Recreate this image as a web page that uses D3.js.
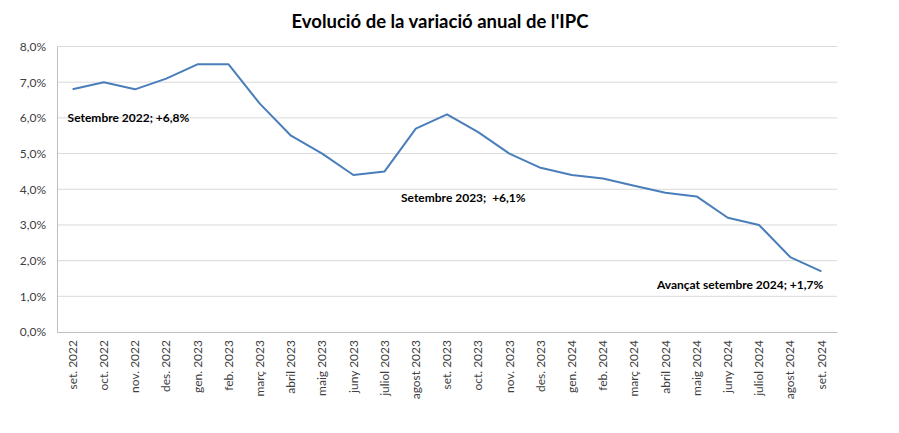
<!DOCTYPE html>
<html><head><meta charset="utf-8">
<script src="https://cdn.jsdelivr.net/npm/d3@7/dist/d3.min.js"></script>
<style>body{margin:0;background:#fff;} text{font-family:Lato,"Open Sans",sans-serif;}</style>
</head><body><svg id="c" width="899" height="433"></svg>
<script>
const categories = ["set. 2022","oct. 2022","nov. 2022","des. 2022","gen. 2023","feb. 2023","març 2023","abril 2023","maig 2023","juny 2023","juliol 2023","agost 2023","set. 2023","oct. 2023","nov. 2023","des. 2023","gen. 2024","feb. 2024","març 2024","abril 2024","maig 2024","juny 2024","juliol 2024","agost 2024","set. 2024"];
const values = [6.8,7.0,6.8,7.1,7.5,7.5,6.4,5.5,5.0,4.4,4.5,5.7,6.1,5.6,5.0,4.6,4.4,4.3,4.1,3.9,3.8,3.2,3.0,2.1,1.7];
const yTicks = [0,1,2,3,4,5,6,7,8];
const title = "Evolució de la variació anual de l'IPC";
const annotations = [
  {idx:0, text:"Setembre 2022; +6,8%", anchor:"start", dx:-5, dy:33},
  {idx:12, text:"Setembre 2023;  +6,1%", anchor:"start", dx:-46, dy:88},
  {idx:24, text:"Avançat setembre 2024; +1,7%", anchor:"end", dx:2, dy:18}
];

const svg = d3.select("#c");
const m = {l:57, r:837, t:46.5, b:332};
const x = d3.scaleBand().domain(categories).range([m.l, m.r]);
const y = d3.scaleLinear().domain([0,8]).range([m.b, m.t]);
const fmt = v => d3.format(".1f")(v).replace(".", ",") + "%";

// gridlines
svg.append("g").selectAll("line").data(yTicks.filter(d=>d>0)).join("line")
  .attr("x1", m.l).attr("x2", m.r)
  .attr("y1", d=>y(d)).attr("y2", d=>y(d))
  .attr("stroke", "#d9d9d9").attr("stroke-width", 1);

// y axis
const ya = svg.append("g").attr("transform", `translate(${m.l},0)`)
  .call(d3.axisLeft(y).tickValues(yTicks).tickFormat(fmt).tickSize(0).tickPadding(11));
ya.select(".domain").attr("stroke", "#bfbfbf");
ya.selectAll("text").attr("fill", "#404040").style("font-size", "12px");

// x axis
const xa = svg.append("g").attr("transform", `translate(0,${m.b})`)
  .call(d3.axisBottom(x).tickSize(0).tickPadding(0));
xa.select(".domain").attr("stroke", "#bfbfbf");
xa.selectAll("text")
  .attr("fill", "#404040").style("font-size", "12px")
  .attr("transform", "rotate(-90)")
  .attr("text-anchor", "end")
  .attr("x", -8).attr("y", 0).attr("dy", "0.35em");

// line
const line = d3.line().x((d,i)=>x(categories[i]) + x.bandwidth()/2).y(d=>y(d));
svg.append("path").datum(values).attr("d", line)
  .attr("fill", "none").attr("stroke", "#4a7ebb").attr("stroke-width", 2)
  .attr("stroke-linejoin", "round");

// annotations
svg.append("g").selectAll("text").data(annotations).join("text")
  .attr("x", d=>x(categories[d.idx]) + x.bandwidth()/2 + d.dx)
  .attr("y", d=>y(values[d.idx]) + d.dy)
  .attr("text-anchor", d=>d.anchor)
  .attr("fill", "#000").style("font-size", "12px").style("font-weight", "bold")
  .style("white-space", "pre")
  .text(d=>d.text);

// title
svg.append("text").attr("x", 440).attr("y", 28).attr("text-anchor", "middle")
  .style("font-size", "18.5px").style("font-weight", "bold").attr("fill", "#000")
  .text(title);
</script></body></html>
